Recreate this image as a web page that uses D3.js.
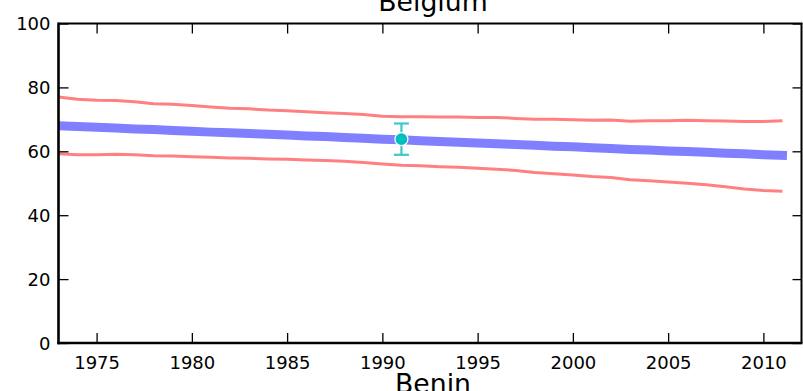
<!DOCTYPE html>
<html><head><meta charset="utf-8">
<script src="https://cdn.jsdelivr.net/npm/d3@7"></script>
<style>body{margin:0;background:#fff}svg{display:block}text{font-family:"DejaVu Sans",sans-serif}</style>
</head><body><svg id="c" width="803" height="391"></svg>
<script>
const title = "Belgium";
const xLabel = "Benin";
const years = d3.range(1973, 2012);
const trend = [68.0,67.8,67.5,67.3,67.0,66.8,66.5,66.3,66.0,65.8,65.6,65.3,65.1,64.8,64.6,64.3,64.1,63.8,63.6,63.3,63.1,62.8,62.6,62.4,62.1,61.9,61.6,61.4,61.1,60.9,60.6,60.4,60.1,59.9,59.7,59.4,59.2,58.9,58.7];
const upper = [77.0,76.3,76.0,75.9,75.5,74.9,74.7,74.3,73.9,73.5,73.3,72.9,72.7,72.4,72.1,71.8,71.5,71.0,70.8,70.8,70.7,70.7,70.6,70.6,70.3,70.0,70.0,69.9,69.7,69.8,69.4,69.6,69.6,69.7,69.6,69.5,69.3,69.3,69.6];
const lower = [59.2,58.9,58.9,59.1,58.9,58.6,58.5,58.3,58.1,57.9,57.8,57.6,57.5,57.3,57.1,56.9,56.5,56.0,55.6,55.5,55.2,55.0,54.7,54.4,54.0,53.4,53.0,52.6,52.1,51.8,51.1,50.8,50.4,50.0,49.5,48.9,48.2,47.7,47.5];
const pointYear = [1991];
const pointValue = [63.8];
const pointErr = [4.9];
const xTicks = [1975,1980,1985,1990,1995,2000,2005,2010];
const yTicks = [0,20,40,60,80,100];

const L=58.5, R=801.5, T=23.5, B=343;
const svg = d3.select("#c");
const x = d3.scaleLinear().domain([1973,2012]).range([L,R]);
const y = d3.scaleLinear().domain([0,100]).range([B,T]);

svg.append("defs").append("clipPath").attr("id","pc").append("rect")
  .attr("x",L).attr("y",T).attr("width",R-L).attr("height",B-T);
const g = svg.append("g").attr("clip-path","url(#pc)");
const line = d3.line().x((d,i)=>x(years[i])).y(d=>y(d));
g.append("path").datum(trend).attr("d",line).attr("fill","none")
  .attr("stroke","#8080ff").attr("stroke-width",9).attr("stroke-linecap","square");
[upper,lower].forEach(s=>g.append("path").datum(s).attr("d",line).attr("fill","none")
  .attr("stroke","#ff8080").attr("stroke-width",3).attr("stroke-linejoin","round"));

const pts = pointYear.map((yr,i)=>({yr,v:pointValue[i],e:pointErr[i]}));
const eb = svg.append("g").attr("stroke","#40c8c8").attr("stroke-width",2.2);
pts.forEach(p=>{
  const cx=x(p.yr);
  eb.append("line").attr("x1",cx).attr("x2",cx).attr("y1",y(p.v+p.e)).attr("y2",y(p.v-p.e));
  eb.append("line").attr("x1",cx-7.5).attr("x2",cx+7.5).attr("y1",y(p.v+p.e)).attr("y2",y(p.v+p.e));
  eb.append("line").attr("x1",cx-7.5).attr("x2",cx+7.5).attr("y1",y(p.v-p.e)).attr("y2",y(p.v-p.e));
  svg.append("circle").attr("cx",cx).attr("cy",y(p.v)).attr("r",6.5)
    .attr("fill","#00bfbf").attr("stroke","#fff").attr("stroke-width",1.2);
});

// axes with inward ticks
const fs = "18px";
const ax = svg.append("g").attr("transform",`translate(0,${B})`)
  .call(d3.axisBottom(x).tickValues(xTicks).tickFormat(d3.format("d")).tickSizeInner(-10).tickSizeOuter(0).tickPadding(13));
const ay = svg.append("g").attr("transform",`translate(${L},0)`)
  .call(d3.axisLeft(y).tickValues(yTicks).tickSizeInner(-10).tickSizeOuter(0).tickPadding(8));
const at = svg.append("g").attr("transform",`translate(0,${T})`)
  .call(d3.axisTop(x).tickValues(xTicks).tickFormat("").tickSizeInner(-10).tickSizeOuter(0));
const ar = svg.append("g").attr("transform",`translate(${R},0)`)
  .call(d3.axisRight(y).tickValues(yTicks).tickFormat("").tickSizeInner(-9).tickSizeOuter(0));
[ax,ay,at,ar].forEach(a=>{
  a.selectAll("text").style("font-size",fs).attr("fill","#000");
  a.selectAll(".tick line").attr("stroke","#000").attr("stroke-width",1.3);
  a.select(".domain").remove();
});
ay.selectAll("text").attr("dy","0.36em");
ax.selectAll("text").attr("dy","0.71em");

svg.append("line").attr("x1",L).attr("x2",L).attr("y1",T-1).attr("y2",B+1.2).attr("stroke","#000").attr("stroke-width",2.6);
svg.append("line").attr("x1",L-1.3).attr("x2",R+1).attr("y1",B).attr("y2",B).attr("stroke","#000").attr("stroke-width",2.6);
svg.append("line").attr("x1",L).attr("x2",R+1).attr("y1",T).attr("y2",T).attr("stroke","#000").attr("stroke-width",2);
svg.append("line").attr("x1",R).attr("x2",R).attr("y1",T).attr("y2",B).attr("stroke","#000").attr("stroke-width",2);

svg.append("text").attr("x",(L+R)/2+3).attr("y",10.5).attr("text-anchor","middle")
  .style("font-size","26.7px").text(title);
svg.append("text").attr("x",(L+R)/2+3).attr("y",392.8).attr("text-anchor","middle")
  .style("font-size","26.7px").text(xLabel);
</script></body></html>
